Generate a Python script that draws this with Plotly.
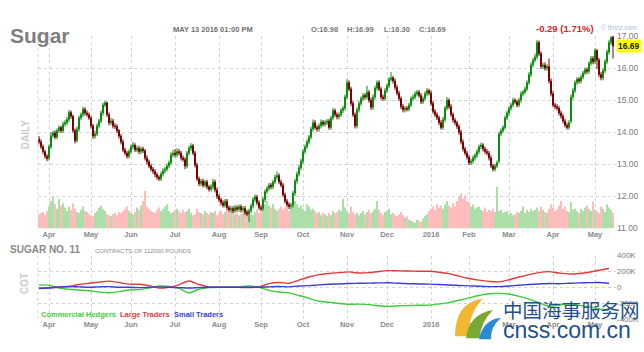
import pandas as pd
import plotly.graph_objects as go

# ---------------- data ----------------
HOLIDAYS = ["2015-04-03", "2015-05-25", "2015-07-03", "2015-09-07", "2015-11-26",
            "2015-12-25", "2016-01-01", "2016-01-18", "2016-02-15", "2016-03-25"]
DATES = [d for d in pd.bdate_range("2015-03-25", "2016-05-13")
         if d.strftime("%Y-%m-%d") not in HOLIDAYS]

TICK_LABELS = ["Apr", "May", "Jun", "Jul", "Aug", "Sep", "Oct", "Nov", "Dec",
               "2016", "Feb", "Mar", "Apr", "May"]

OPEN = [
 13.80, 13.70, 13.55, 13.40, 13.25, 13.20, 13.55, 13.90, 13.98, 13.85,
 14.05, 14.15, 14.05, 14.25, 14.30, 14.40, 14.62, 14.50, 14.05, 13.75,
 14.10, 14.45, 14.55, 14.72, 14.60, 14.55, 14.45, 14.20, 13.88, 13.95,
 14.20, 14.35, 14.60, 14.85, 14.92, 14.55, 14.30, 14.35, 14.20, 14.18,
 14.05, 13.88, 13.70, 13.45, 13.35, 13.25, 13.40, 13.55, 13.60, 13.45,
 13.50, 13.40, 13.48, 13.42, 13.20, 13.08, 12.95, 12.85, 12.78, 12.68,
 12.60, 12.55, 12.70, 12.80, 12.85, 12.95, 13.05, 13.30, 13.35, 13.30,
 13.40, 13.35, 13.20, 13.15, 12.95, 13.35, 13.50, 13.58, 13.35, 12.98,
 12.55, 12.40, 12.48, 12.35, 12.45, 12.30, 12.22, 12.30, 12.45, 12.20,
 12.00, 11.90, 11.80, 11.72, 11.85, 11.65, 11.58, 11.62, 11.55, 11.65,
 11.60, 11.68, 11.58, 11.62, 11.50, 11.45, 11.55, 11.70, 11.90, 11.98,
 11.80, 11.65, 11.62, 11.90, 12.15, 12.25, 12.35, 12.30, 12.45, 12.60,
 12.65, 12.45, 12.35, 12.05, 11.85, 11.75, 11.68, 11.72, 12.10, 12.48,
 12.70, 12.90, 13.10, 13.40, 13.55, 13.70, 13.85, 14.10, 14.30, 14.15,
 14.10, 14.20, 14.32, 14.25, 14.30, 14.35, 14.15, 14.45, 14.68, 14.55,
 14.48, 14.55, 14.68, 14.75, 15.10, 15.55, 15.35, 14.90, 14.55, 14.20,
 14.70, 14.90, 15.05, 15.15, 15.10, 15.25, 15.00, 14.78, 15.10, 15.38,
 15.55, 15.35, 15.10, 15.05, 15.30, 15.45, 15.65, 15.70, 15.60, 15.40,
 15.22, 15.05, 14.80, 14.70, 14.75, 14.72, 14.85, 15.05, 15.10, 15.20,
 15.25, 15.15, 14.95, 15.05, 15.20, 15.30, 15.22, 14.90, 14.65, 14.55,
 14.45, 14.30, 14.15, 14.40, 14.75, 15.00, 14.80, 14.55, 14.38, 14.30,
 14.18, 14.00, 13.70, 13.48, 13.35, 13.22, 13.05, 13.10, 13.20, 13.28,
 13.40, 13.55, 13.60, 13.48, 13.40, 13.35, 13.20, 12.95, 12.85, 12.95,
 13.10, 13.95, 14.05, 14.15, 14.45, 14.60, 14.75, 14.85, 15.00, 14.95,
 14.85, 15.00, 15.20, 15.25, 15.35, 15.55, 15.80, 16.10, 16.25, 16.35,
 16.80, 16.45, 16.05, 16.10, 16.00, 16.05, 15.60, 15.20, 14.85, 14.80,
 14.75, 14.60, 14.50, 14.35, 14.22, 14.15, 14.35, 15.10, 15.30, 15.55,
 15.65, 15.60, 15.72, 15.85, 15.95, 15.90, 16.15, 16.30, 16.20, 16.55,
 16.25, 15.80, 15.70, 15.92, 16.20, 16.50, 16.80, 16.98]

HIGH = [
 13.88, 13.78, 13.62, 13.45, 13.32, 13.62, 14.00, 14.05, 14.06, 14.12,
 14.22, 14.20, 14.33, 14.38, 14.48, 14.70, 14.68, 14.55, 14.12, 14.18,
 14.52, 14.62, 14.80, 14.78, 14.68, 14.62, 14.50, 14.26, 14.05, 14.28,
 14.42, 14.68, 14.92, 14.98, 14.96, 14.62, 14.45, 14.42, 14.28, 14.25,
 14.10, 13.95, 13.78, 13.52, 13.42, 13.48, 13.62, 13.70, 13.66, 13.58,
 13.58, 13.55, 13.55, 13.48, 13.28, 13.15, 13.02, 12.92, 12.85, 12.75,
 12.66, 12.78, 12.88, 12.92, 13.02, 13.12, 13.38, 13.45, 13.48, 13.50,
 13.48, 13.42, 13.28, 13.22, 13.42, 13.58, 13.66, 13.64, 13.42, 13.05,
 12.62, 12.55, 12.55, 12.52, 12.52, 12.36, 12.38, 12.55, 12.52, 12.28,
 12.08, 11.96, 11.88, 11.92, 11.92, 11.72, 11.70, 11.70, 11.74, 11.72,
 11.75, 11.75, 11.70, 11.70, 11.58, 11.62, 11.78, 11.98, 12.06, 12.05,
 11.88, 11.72, 11.98, 12.22, 12.32, 12.42, 12.42, 12.52, 12.68, 12.78,
 12.72, 12.52, 12.42, 12.12, 11.92, 11.82, 11.80, 12.18, 12.55, 12.78,
 12.98, 13.18, 13.48, 13.62, 13.78, 13.92, 14.18, 14.40, 14.38, 14.22,
 14.28, 14.40, 14.38, 14.38, 14.42, 14.42, 14.52, 14.76, 14.74, 14.62,
 14.62, 14.75, 14.82, 15.18, 15.65, 15.62, 15.42, 14.98, 14.62, 14.78,
 14.98, 15.12, 15.22, 15.22, 15.45, 15.32, 15.08, 15.18, 15.46, 15.62,
 15.62, 15.42, 15.18, 15.38, 15.52, 15.72, 15.88, 15.76, 15.68, 15.48,
 15.30, 15.12, 14.88, 14.82, 14.82, 14.92, 15.12, 15.18, 15.28, 15.32,
 15.32, 15.22, 15.12, 15.28, 15.38, 15.36, 15.30, 14.98, 14.72, 14.62,
 14.52, 14.38, 14.48, 14.82, 15.10, 15.06, 14.88, 14.62, 14.45, 14.36,
 14.25, 14.08, 13.78, 13.55, 13.42, 13.30, 13.18, 13.28, 13.35, 13.48,
 13.62, 13.68, 13.66, 13.55, 13.48, 13.42, 13.28, 13.02, 13.02, 13.12,
 14.02, 14.12, 14.22, 14.52, 14.68, 14.82, 14.92, 15.08, 15.06, 15.02,
 15.08, 15.28, 15.32, 15.42, 15.62, 15.88, 16.18, 16.32, 16.45, 16.88,
 16.86, 16.52, 16.18, 16.18, 16.12, 16.30, 15.68, 15.28, 14.92, 14.88,
 14.82, 14.68, 14.58, 14.42, 14.30, 14.38, 15.18, 15.38, 15.62, 15.72,
 15.72, 15.80, 15.92, 16.02, 16.02, 16.22, 16.38, 16.38, 16.62, 16.60,
 16.32, 15.88, 16.00, 16.28, 16.58, 16.88, 17.00, 16.99]

LOW = [
 13.62, 13.48, 13.32, 13.18, 13.10, 13.12, 13.48, 13.82, 13.78, 13.78,
 13.98, 13.98, 13.98, 14.18, 14.22, 14.32, 14.42, 13.98, 13.65, 13.68,
 14.02, 14.38, 14.48, 14.52, 14.48, 14.38, 14.12, 13.80, 13.80, 13.88,
 14.12, 14.28, 14.52, 14.78, 14.48, 14.22, 14.22, 14.12, 14.10, 13.98,
 13.80, 13.62, 13.38, 13.28, 13.18, 13.18, 13.32, 13.48, 13.38, 13.38,
 13.32, 13.32, 13.35, 13.12, 13.00, 12.88, 12.78, 12.70, 12.60, 12.52,
 12.48, 12.48, 12.62, 12.72, 12.78, 12.88, 12.98, 13.22, 13.22, 13.22,
 13.28, 13.12, 13.08, 12.85, 12.88, 13.28, 13.42, 13.28, 12.90, 12.48,
 12.32, 12.32, 12.28, 12.28, 12.22, 12.15, 12.15, 12.22, 12.12, 11.92,
 11.82, 11.72, 11.65, 11.65, 11.58, 11.50, 11.50, 11.48, 11.48, 11.52,
 11.52, 11.50, 11.50, 11.42, 11.38, 11.20, 11.48, 11.62, 11.82, 11.72,
 11.58, 11.55, 11.55, 11.82, 12.08, 12.18, 12.22, 12.22, 12.38, 12.52,
 12.38, 12.28, 11.98, 11.78, 11.68, 11.60, 11.60, 11.65, 12.02, 12.40,
 12.62, 12.82, 13.02, 13.32, 13.48, 13.62, 13.78, 14.02, 14.08, 14.02,
 14.02, 14.12, 14.18, 14.18, 14.22, 14.08, 14.08, 14.38, 14.48, 14.40,
 14.40, 14.48, 14.60, 14.68, 15.02, 15.28, 14.82, 14.48, 14.12, 14.12,
 14.62, 14.82, 14.98, 15.02, 15.02, 14.92, 14.70, 14.70, 15.02, 15.30,
 15.28, 15.02, 14.98, 14.98, 15.22, 15.38, 15.58, 15.52, 15.32, 15.15,
 14.98, 14.72, 14.62, 14.62, 14.65, 14.65, 14.78, 14.98, 15.02, 15.12,
 15.08, 14.88, 14.88, 14.98, 15.12, 15.15, 14.82, 14.58, 14.48, 14.38,
 14.22, 14.08, 14.08, 14.32, 14.68, 14.72, 14.48, 14.30, 14.22, 14.10,
 13.92, 13.62, 13.40, 13.28, 13.15, 12.98, 12.98, 13.02, 13.12, 13.20,
 13.32, 13.48, 13.40, 13.32, 13.28, 13.12, 12.88, 12.78, 12.78, 12.88,
 13.02, 13.88, 13.98, 14.08, 14.38, 14.52, 14.68, 14.78, 14.88, 14.78,
 14.78, 14.92, 15.12, 15.18, 15.28, 15.48, 15.72, 16.02, 16.18, 16.28,
 16.38, 15.98, 15.98, 15.92, 15.92, 15.52, 15.12, 14.78, 14.72, 14.68,
 14.52, 14.42, 14.28, 14.15, 14.08, 14.08, 14.28, 15.02, 15.22, 15.48,
 15.52, 15.52, 15.65, 15.78, 15.82, 15.82, 16.08, 16.12, 16.12, 15.98,
 15.72, 15.62, 15.62, 15.85, 16.12, 16.42, 16.72, 16.30]

CLOSE = [
 13.70, 13.55, 13.40, 13.25, 13.18, 13.55, 13.90, 13.98, 13.85, 14.05,
 14.15, 14.05, 14.25, 14.30, 14.40, 14.62, 14.50, 14.05, 13.73, 14.10,
 14.45, 14.55, 14.72, 14.60, 14.55, 14.45, 14.20, 13.88, 13.95, 14.20,
 14.35, 14.60, 14.85, 14.92, 14.55, 14.30, 14.35, 14.20, 14.18, 14.05,
 13.88, 13.70, 13.45, 13.35, 13.25, 13.40, 13.55, 13.60, 13.45, 13.50,
 13.40, 13.48, 13.42, 13.20, 13.08, 12.95, 12.85, 12.78, 12.68, 12.60,
 12.55, 12.70, 12.80, 12.85, 12.95, 13.05, 13.30, 13.35, 13.30, 13.40,
 13.35, 13.20, 13.15, 12.95, 13.35, 13.50, 13.58, 13.35, 12.98, 12.55,
 12.40, 12.48, 12.35, 12.45, 12.30, 12.22, 12.30, 12.45, 12.20, 12.00,
 11.90, 11.80, 11.72, 11.85, 11.65, 11.58, 11.62, 11.55, 11.65, 11.60,
 11.68, 11.58, 11.62, 11.50, 11.45, 11.55, 11.70, 11.90, 11.98, 11.80,
 11.65, 11.62, 11.90, 12.15, 12.25, 12.35, 12.30, 12.45, 12.60, 12.65,
 12.45, 12.35, 12.05, 11.85, 11.75, 11.68, 11.72, 12.10, 12.48, 12.70,
 12.90, 13.10, 13.40, 13.55, 13.70, 13.85, 14.10, 14.30, 14.15, 14.10,
 14.20, 14.32, 14.25, 14.30, 14.35, 14.15, 14.45, 14.68, 14.55, 14.48,
 14.55, 14.68, 14.75, 15.10, 15.55, 15.35, 14.90, 14.55, 14.20, 14.70,
 14.90, 15.05, 15.15, 15.10, 15.25, 15.00, 14.78, 15.10, 15.38, 15.55,
 15.35, 15.10, 15.05, 15.30, 15.45, 15.65, 15.70, 15.60, 15.40, 15.22,
 15.05, 14.80, 14.70, 14.75, 14.72, 14.85, 15.05, 15.10, 15.20, 15.25,
 15.15, 14.95, 15.05, 15.20, 15.30, 15.22, 14.90, 14.65, 14.55, 14.45,
 14.30, 14.15, 14.40, 14.75, 15.00, 14.80, 14.55, 14.38, 14.30, 14.18,
 14.00, 13.70, 13.48, 13.35, 13.22, 13.05, 13.10, 13.20, 13.28, 13.40,
 13.55, 13.60, 13.48, 13.40, 13.35, 13.20, 12.95, 12.85, 12.95, 13.05,
 13.95, 14.05, 14.15, 14.45, 14.60, 14.75, 14.85, 15.00, 14.95, 14.85,
 15.00, 15.20, 15.25, 15.35, 15.55, 15.80, 16.10, 16.25, 16.35, 16.80,
 16.45, 16.05, 16.10, 16.00, 16.05, 15.60, 15.20, 14.85, 14.80, 14.75,
 14.60, 14.50, 14.35, 14.22, 14.15, 14.30, 15.10, 15.30, 15.55, 15.65,
 15.60, 15.72, 15.85, 15.95, 15.90, 16.15, 16.30, 16.20, 16.55, 16.25,
 15.80, 15.70, 15.92, 16.20, 16.50, 16.80, 16.95, 16.69]

# daily volume, thousands of contracts
VOLUME = [
 78, 84, 90, 72, 96, 120, 150, 174, 132, 108,
 162, 126, 138, 114, 96, 120, 102, 138, 108, 90,
 84, 102, 120, 96, 90, 78, 72, 66, 84, 96,
 114, 126, 108, 96, 78, 72, 66, 78, 84, 72,
 90, 84, 96, 108, 120, 96, 84, 78, 90, 114,
 102, 126, 150, 204, 120, 108, 96, 90, 84, 102,
 114, 96, 108, 120, 132, 96, 84, 90, 102, 108,
 96, 84, 102, 90, 96, 108, 84, 72, 78, 108,
 90, 84, 78, 96, 84, 78, 90, 84, 96, 72,
 84, 96, 78, 90, 102, 84, 96, 90, 78, 84,
 72, 78, 84, 90, 96, 84, 78, 72, 90, 102,
 84, 108, 120, 132, 150, 126, 114, 132, 108, 96,
 108, 120, 102, 114, 132, 96, 108, 120, 150, 132,
 114, 126, 108, 96, 132, 120, 102, 108, 96, 84,
 90, 72, 84, 78, 66, 84, 72, 96, 84, 90,
 102, 96, 162, 114, 96, 84, 120, 90, 78, 84,
 72, 84, 96, 78, 90, 102, 84, 96, 108, 150,
 102, 84, 72, 90, 96, 108, 78, 84, 72, 66,
 78, 90, 72, 60, 66, 48, 42, 36, 30, 48,
 42, 36, 54, 66, 78, 96, 108, 120, 102, 132,
 114, 126, 108, 132, 150, 126, 114, 138, 120, 150,
 174, 192, 162, 180, 150, 144, 120, 132, 108, 114,
 120, 102, 96, 114, 90, 102, 96, 108, 90, 228,
 96, 102, 84, 90, 96, 78, 84, 72, 78, 90,
 84, 96, 120, 84, 102, 90, 108, 96, 102, 114,
 96, 120, 102, 90, 84, 108, 132, 114, 96, 102,
 126, 150, 108, 120, 96, 90, 144, 102, 108, 96,
 84, 108, 96, 114, 126, 108, 96, 144, 102, 96,
 84, 120, 108, 90, 132, 114, 102, 84]

# weekly COT net positions (thousands of contracts)
COT_COMMERCIAL = [
 30, 25, -10, -25, -35, -45, -60, -70, -55, -35,
 -30, -10, 15, 10, -15, -70, -25, -5, 0, 0,
 5, 15, 0, -40, -60, -72, -105, -140, -178, -190,
 -205, -215, -214, -220, -235, -242, -235, -232, -228, -226,
 -212, -195, -165, -135, -105, -82, -78, -85, -115, -150,
 -195, -240, -225, -210, -230, -245, -275, -290]
COT_LARGE = [
 -12, -5, 0, 10, 35, 50, 65, 78, 60, 40,
 38, 20, -10, 0, 30, 80, 35, 5, 0, 0,
 -2, -5, 5, 45, 60, 50, 90, 130, 160, 175,
 185, 195, 180, 185, 200, 210, 208, 205, 203, 202,
 190, 172, 140, 110, 90, 75, 68, 95, 130, 160,
 185, 198, 180, 168, 175, 190, 215, 238]
COT_SMALL = [
 -15, -10, 5, 10, 5, 0, 5, 8, 0, 0,
 -5, 0, 5, 0, -5, -10, -5, 0, 0, 0,
 0, 0, 0, 5, 10, 5, 15, 20, 30, 38,
 42, 48, 50, 52, 55, 57, 50, 45, 42, 40,
 35, 28, 22, 18, 12, 8, 8, 15, 25, 35,
 42, 48, 45, 50, 55, 58, 60, 50]

# ---------------- layout helpers ----------------
W, H = 644, 352
X = list(range(len(DATES)))
COT_X = X[::5][:len(COT_LARGE)]
TICK_POS = [i for i in range(1, len(DATES)) if DATES[i].month != DATES[i - 1].month]


def px(x):
    return x / W


def py(y):
    return 1 - y / H


XD = [px(38), px(616)]
XR = [-0.5, len(DATES) + 0.5]
PRICE_DOM = [py(230), py(32)]
COT_DOM = [py(323), py(258)]
GRID = "#d2d2d2"
FONT = "Arial, Liberation Sans, sans-serif"

vol_colors = ["#acdfa8" if c >= o else "#ffbcbc" for o, c in zip(OPEN, CLOSE)]

fig = go.Figure()
fig.add_trace(go.Bar(x=X, y=VOLUME, marker=dict(color=vol_colors, line=dict(width=0)),
                     width=0.85, xaxis="x", yaxis="y", hoverinfo="skip"))
fig.add_trace(go.Candlestick(
    x=X, open=OPEN, high=HIGH, low=LOW, close=CLOSE, xaxis="x", yaxis="y2",
    whiskerwidth=0,
    increasing=dict(line=dict(color="#0c8c0c", width=1), fillcolor="#1fb01f"),
    decreasing=dict(line=dict(color="#7a0000", width=1), fillcolor="#c00000")))

for vals, col in [(COT_COMMERCIAL, "#3ccc3c"), (COT_LARGE, "#dd3c3c"), (COT_SMALL, "#3c3cdd")]:
    fig.add_trace(go.Scatter(x=COT_X, y=vals, mode="lines", xaxis="x2", yaxis="y3",
                             line=dict(color=col, width=1.4, shape="spline", smoothing=0.8),
                             hoverinfo="skip"))

xcommon = dict(domain=XD, range=XR, tickvals=TICK_POS, ticktext=TICK_LABELS,
               showgrid=True, gridcolor=GRID, griddash="dot", gridwidth=1,
               zeroline=False, showline=False, ticks="",
               tickfont=dict(size=7.5, color="#8a8a8a", weight="bold", family=FONT))

fig.update_layout(
    width=W, height=H, margin=dict(l=0, r=0, t=0, b=0),
    paper_bgcolor="white", plot_bgcolor="white", showlegend=False,
    font=dict(family=FONT),
    xaxis=dict(anchor="y", rangeslider=dict(visible=False), **xcommon),
    yaxis=dict(domain=PRICE_DOM, range=[0, 1050], visible=False),
    yaxis2=dict(overlaying="y", anchor="x", side="right", range=[11, 17],
                tickvals=[11, 12, 13, 14, 15, 16, 17], tickformat=".2f",
                showgrid=True, gridcolor=GRID, griddash="dot", zeroline=False,
                ticks="", tickfont=dict(size=8.5, color="#7a7a7a")),
    xaxis2=dict(anchor="y3", **xcommon),
    yaxis3=dict(domain=COT_DOM, anchor="x2", side="right", range=[-400, 400],
                tickvals=[-400, -200, 0, 200, 400],
                ticktext=["-400K", "-200K", "0", "200K", "400K"],
                showgrid=True, gridcolor=GRID, griddash="dot", zeroline=False,
                ticks="", tickfont=dict(size=8, color="#7a7a7a")),
)

# left borders
for y0, y1 in [(32, 230), (258, 323)]:
    fig.add_shape(type="line", xref="paper", yref="paper", x0=px(38), x1=px(38),
                  y0=py(y0), y1=py(y1), line=dict(color=GRID, width=1, dash="dot"))


def note(text, x, y, size, color, bold=False, xanchor="left", angle=0, family=FONT, **kw):
    fig.add_annotation(text=text, x=px(x), y=py(y), xref="paper", yref="paper",
                       xanchor=xanchor, yanchor="middle", showarrow=False, textangle=angle,
                       font=dict(size=size, color=color, family=family,
                                 weight="bold" if bold else "normal"), **kw)


note("Sugar", 8, 31, 21, "#7f7f7f", bold=True)
note("MAY 13 2016 01:00 PM", 171, 25, 7.5, "#6f6f6f", bold=True)
note("O:16.98", 309, 25, 7.5, "#777777", bold=True)
note("H:16.99", 345, 25, 7.5, "#777777", bold=True)
note("L:16.30", 382, 25, 7.5, "#777777", bold=True)
note("C:16.69", 417, 25, 7.5, "#777777", bold=True)
note("-0.29 (1.71%)", 534, 24, 9.5, "#e02020", bold=True)
note("© finviz.com", 599, 23, 6.5, "#9cc4e8")
note("<b>16.69</b>", 616, 42, 8.5, "#222222", bgcolor="#ffff00", borderpad=1)
note("DAILY", 25, 133, 10, "#cccccc", bold=True, xanchor="center", angle=-90)
note("COT", 25, 286, 10, "#cccccc", bold=True, xanchor="center", angle=-90)
note("SUGAR NO. 11", 8, 252, 10, "#8a8a8a", bold=True)
note("CONTRACTS OF 112000 POUNDS", 93, 253, 6, "#8a8a8a")
note("Commercial Hedgers", 39, 319, 7.5, "#3ccc3c", bold=True)
note("Large Traders", 118, 319, 7.5, "#dd3c3c", bold=True)
note("Small Traders", 172, 319, 7.5, "#3c3cdd", bold=True)

# watermark
note("中国海事服务网", 501, 313, 19.5, "#1f4f8e", family="Noto Sans CJK SC")
note("cnss.com.cn", 501, 334, 23, "#1f4f8e")


def pth(pts):
    s = "M %f,%f" % (px(pts[0][0]), py(pts[0][1]))
    for i in range(1, len(pts), 2):
        s += " Q %f,%f %f,%f" % (px(pts[i][0]), py(pts[i][1]), px(pts[i + 1][0]), py(pts[i + 1][1]))
    return s + " Z"


for pts, col in [
    ([(455, 341), (455, 306), (483, 302), (468, 318), (469, 341)], "#f2b632"),
    ([(466, 343), (469, 318), (493, 314), (480, 327), (480, 343)], "#79a935"),
    ([(479, 344), (483, 324), (501, 322), (490, 332), (491, 344)], "#2a8ad6"),
]:
    fig.add_shape(type="path", xref="paper", yref="paper", path=pth(pts),
                  fillcolor=col, line=dict(width=0))

fig.write_html("out.html")
